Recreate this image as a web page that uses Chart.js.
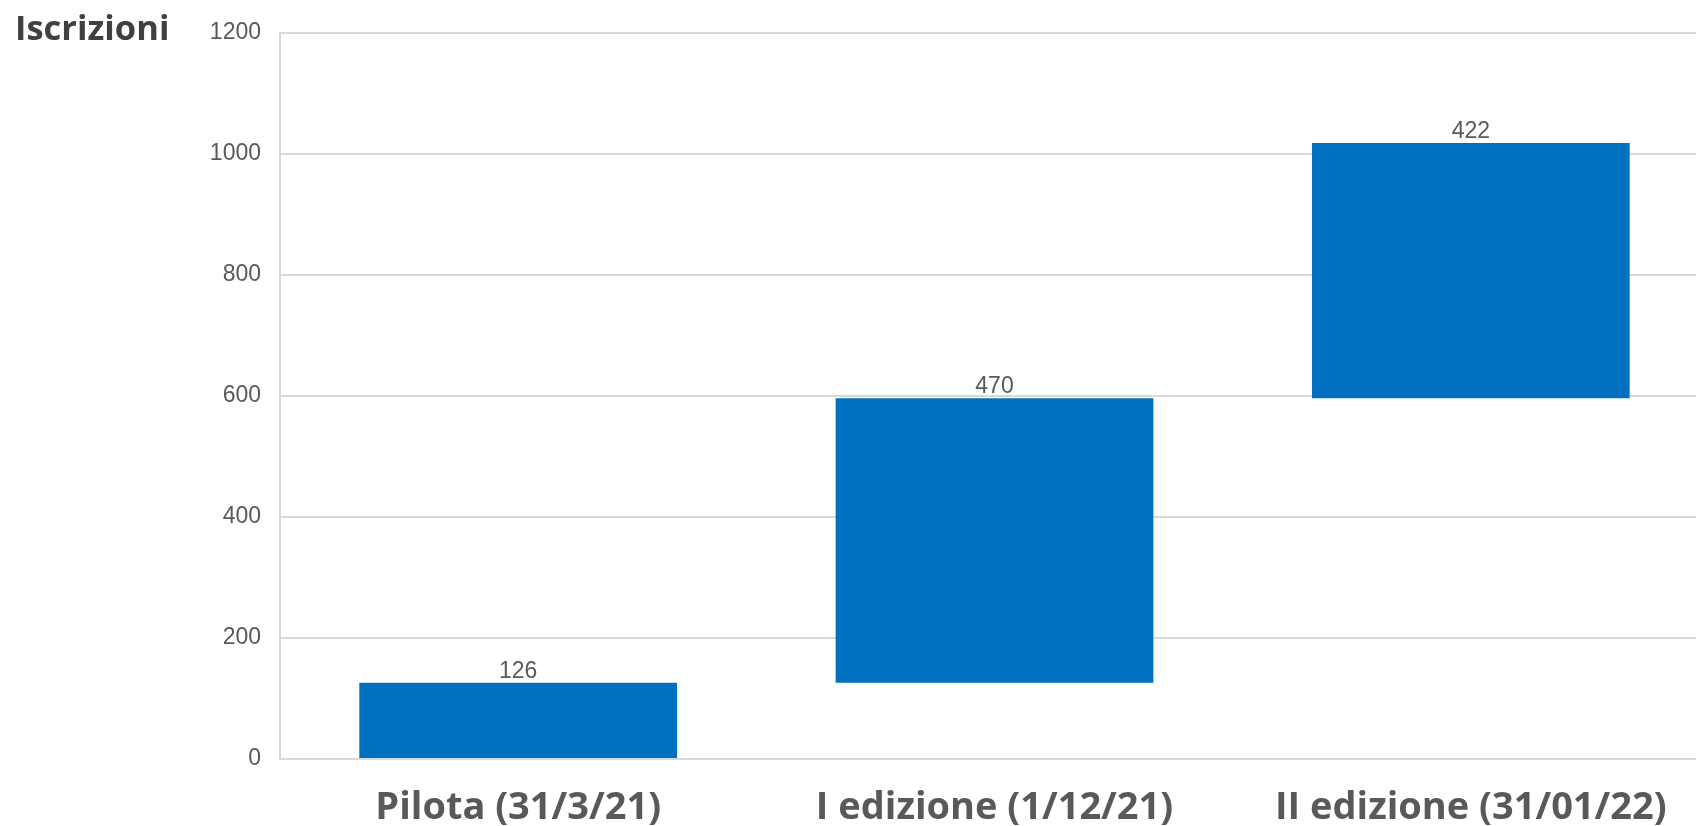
<!DOCTYPE html>
<html>
<head>
<meta charset="utf-8">
<script src="https://cdn.jsdelivr.net/npm/chart.js@4"></script>
<style>
  html, body { margin: 0; padding: 0; background: #fff; }
  #box { width: 1696px; height: 826px; position: relative; overflow: hidden; }
</style>
</head>
<body>
<!-- il grafico originale è tagliato a destra: la tela è un po' più larga del riquadro -->
<div id="box"><canvas id="chartIscrizioni" width="1709" height="826"></canvas></div>
<script>
// dati (cascata)
const categorie = ["Pilota (31/3/21)", "I edizione (1/12/21)", "II edizione (31/01/22)"]
const incrementi = [126, 470, 422]
const tickY = [0, 200, 400, 600, 800, 1000, 1200]

// barre flottanti: ognuna parte dal totale precedente
const barre = []
let base = 0
incrementi.forEach((v) => {
  barre.push([base, base + v])
  base += v
})

const etichette = {
  id: "etichette",
  afterDatasetsDraw(chart) {
    const ctx = chart.ctx
    const meta = chart.getDatasetMeta(0)
    ctx.save()
    ctx.font = "23px 'Liberation Sans', Arial, sans-serif"
    ctx.fillStyle = "#595959"
    ctx.textAlign = "center"
    ctx.textBaseline = "alphabetic"
    meta.data.forEach((bar, i) => {
      ctx.fillText(String(incrementi[i]), bar.x, bar.y - 5)
    })
    // titolo asse
    ctx.font = "bold 34.5px 'Open Sans', 'Noto Sans', sans-serif"
    ctx.fillStyle = "#404040"
    ctx.textAlign = "left"
    ctx.fillText("Iscrizioni", 15, 40)
    ctx.restore()
  },
}

new Chart(document.getElementById("chartIscrizioni"), {
  type: "bar",
  data: {
    labels: categorie,
    datasets: [
      {
        data: barre,
        backgroundColor: "#0070c0",
        borderWidth: 0,
        categoryPercentage: 0.667,
        barPercentage: 1,
      },
    ],
  },
  options: {
    responsive: false,
    animation: false,
    devicePixelRatio: 1,
    layout: { padding: { left: 0, top: 31, right: 0, bottom: 0 } },
    plugins: { legend: { display: false }, tooltip: { enabled: false } },
    scales: {
      x: {
        grid: { display: false, drawTicks: false },
        border: { color: "#d9d9d9", width: 2 },
        ticks: {
          color: "#595959",
          font: { family: "'Open Sans', 'Noto Sans', sans-serif", size: 38, weight: "bold" },
          padding: 26,
          maxRotation: 0,
        },
        afterFit: (scale) => { scale.height = 67 },
      },
      y: {
        min: 0,
        max: 1200,
        afterBuildTicks: (scale) => { scale.ticks = tickY.map((v) => ({ value: v })) },
        grid: { color: "#d9d9d9", lineWidth: 2, drawTicks: false },
        border: { color: "#d9d9d9", width: 2 },
        ticks: {
          color: "#595959",
          font: { family: "'Liberation Sans', Arial, sans-serif", size: 23 },
          padding: 19,
          callback: (v) => String(v),
        },
        afterFit: (scale) => { scale.width = 280 },
      },
    },
  },
  plugins: [etichette],
})
</script>
</body>
</html>
